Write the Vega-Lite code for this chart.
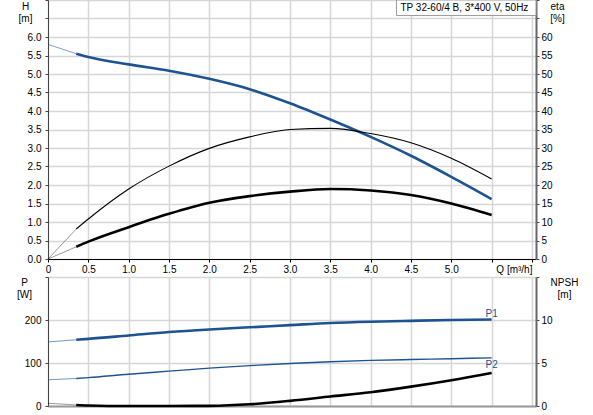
{
  "$schema": "https://vega.github.io/schema/vega-lite/v6.json",
  "padding": {"left": 16, "top": -5, "right": 0, "bottom": 0},
  "background": "white",
  "config": {
    "font": "Liberation Sans",
    "view": {"stroke": null},
    "axis": {
      "labelFont": "Liberation Sans",
      "labelFontSize": 10,
      "labelColor": "#000",
      "titleFont": "Liberation Sans",
      "titleFontSize": 10,
      "titleFontWeight": "normal",
      "titleColor": "#000",
      "titleAngle": 0,
      "titleBaseline": "top",
      "titleAlign": "center",
      "titleLineHeight": 12,
      "tickColor": "#444",
      "tickSize": 3,
      "gridColor": "#d6d6d6",
      "gridWidth": 1.5,
      "labelPadding": 2,
      "labelFlush": false,
      "labelOverlap": false
    }
  },
  "datasets": {
    "top": [
      {"curve": "H", "part": "ext", "q": 0, "v": 5.8},
      {"curve": "H", "part": "ext", "q": 0.35, "v": 5.55},
      {"curve": "H", "part": "main", "q": 0.35, "v": 5.55},
      {"curve": "H", "part": "main", "q": 0.5, "v": 5.46},
      {"curve": "H", "part": "main", "q": 1.0, "v": 5.26},
      {"curve": "H", "part": "main", "q": 1.5, "v": 5.09},
      {"curve": "H", "part": "main", "q": 2.0, "v": 4.87},
      {"curve": "H", "part": "main", "q": 2.5, "v": 4.59},
      {"curve": "H", "part": "main", "q": 3.0, "v": 4.21},
      {"curve": "H", "part": "main", "q": 3.5, "v": 3.77},
      {"curve": "H", "part": "main", "q": 4.0, "v": 3.3},
      {"curve": "H", "part": "main", "q": 4.5, "v": 2.79},
      {"curve": "H", "part": "main", "q": 5.0, "v": 2.22},
      {"curve": "H", "part": "main", "q": 5.5, "v": 1.62},
      {"curve": "eta", "part": "ext", "q": 0, "v": 0},
      {"curve": "eta", "part": "ext", "q": 0.35, "v": 8.1},
      {"curve": "eta", "part": "main", "q": 0.35, "v": 8.1},
      {"curve": "eta", "part": "main", "q": 0.5, "v": 10.8},
      {"curve": "eta", "part": "main", "q": 1.0, "v": 18.9},
      {"curve": "eta", "part": "main", "q": 1.5, "v": 25.1},
      {"curve": "eta", "part": "main", "q": 2.0, "v": 29.9},
      {"curve": "eta", "part": "main", "q": 2.5, "v": 33.0},
      {"curve": "eta", "part": "main", "q": 3.0, "v": 35.0},
      {"curve": "eta", "part": "main", "q": 3.5, "v": 35.3},
      {"curve": "eta", "part": "main", "q": 4.0, "v": 33.9},
      {"curve": "eta", "part": "main", "q": 4.5, "v": 31.4},
      {"curve": "eta", "part": "main", "q": 5.0, "v": 27.2},
      {"curve": "eta", "part": "main", "q": 5.5, "v": 21.6},
      {"curve": "eta total", "part": "ext", "q": 0, "v": 0},
      {"curve": "eta total", "part": "ext", "q": 0.35, "v": 3.3},
      {"curve": "eta total", "part": "main", "q": 0.35, "v": 3.3},
      {"curve": "eta total", "part": "main", "q": 0.5, "v": 4.7},
      {"curve": "eta total", "part": "main", "q": 1.0, "v": 8.6},
      {"curve": "eta total", "part": "main", "q": 1.5, "v": 12.2},
      {"curve": "eta total", "part": "main", "q": 2.0, "v": 15.2},
      {"curve": "eta total", "part": "main", "q": 2.5, "v": 17.0},
      {"curve": "eta total", "part": "main", "q": 3.0, "v": 18.2},
      {"curve": "eta total", "part": "main", "q": 3.5, "v": 18.9},
      {"curve": "eta total", "part": "main", "q": 4.0, "v": 18.5},
      {"curve": "eta total", "part": "main", "q": 4.5, "v": 17.3},
      {"curve": "eta total", "part": "main", "q": 5.0, "v": 15.0},
      {"curve": "eta total", "part": "main", "q": 5.5, "v": 11.9}
    ],
    "bottom": [
      {"curve": "P1", "part": "ext", "q": 0, "v": 149},
      {"curve": "P1", "part": "ext", "q": 0.35, "v": 154},
      {"curve": "P1", "part": "main", "q": 0.35, "v": 154},
      {"curve": "P1", "part": "main", "q": 0.5, "v": 156},
      {"curve": "P1", "part": "main", "q": 1.0, "v": 164},
      {"curve": "P1", "part": "main", "q": 1.5, "v": 172},
      {"curve": "P1", "part": "main", "q": 2.0, "v": 178},
      {"curve": "P1", "part": "main", "q": 2.5, "v": 183},
      {"curve": "P1", "part": "main", "q": 3.0, "v": 188},
      {"curve": "P1", "part": "main", "q": 3.5, "v": 193},
      {"curve": "P1", "part": "main", "q": 4.0, "v": 196},
      {"curve": "P1", "part": "main", "q": 4.5, "v": 198},
      {"curve": "P1", "part": "main", "q": 5.0, "v": 200},
      {"curve": "P1", "part": "main", "q": 5.5, "v": 201},
      {"curve": "P2", "part": "ext", "q": 0, "v": 61},
      {"curve": "P2", "part": "ext", "q": 0.35, "v": 64},
      {"curve": "P2", "part": "main", "q": 0.35, "v": 64},
      {"curve": "P2", "part": "main", "q": 0.5, "v": 66},
      {"curve": "P2", "part": "main", "q": 1.0, "v": 74},
      {"curve": "P2", "part": "main", "q": 1.5, "v": 81},
      {"curve": "P2", "part": "main", "q": 2.0, "v": 88},
      {"curve": "P2", "part": "main", "q": 2.5, "v": 94},
      {"curve": "P2", "part": "main", "q": 3.0, "v": 99},
      {"curve": "P2", "part": "main", "q": 3.5, "v": 103},
      {"curve": "P2", "part": "main", "q": 4.0, "v": 106},
      {"curve": "P2", "part": "main", "q": 4.5, "v": 108},
      {"curve": "P2", "part": "main", "q": 5.0, "v": 110},
      {"curve": "P2", "part": "main", "q": 5.5, "v": 112},
      {"curve": "NPSH", "part": "ext", "q": 0, "v": 0.32},
      {"curve": "NPSH", "part": "ext", "q": 0.35, "v": 0.12},
      {"curve": "NPSH", "part": "main", "q": 0.35, "v": 0.12},
      {"curve": "NPSH", "part": "main", "q": 0.5, "v": 0.06},
      {"curve": "NPSH", "part": "main", "q": 1.0, "v": 0.0},
      {"curve": "NPSH", "part": "main", "q": 1.5, "v": 0.0},
      {"curve": "NPSH", "part": "main", "q": 2.0, "v": 0.02},
      {"curve": "NPSH", "part": "main", "q": 2.5, "v": 0.2},
      {"curve": "NPSH", "part": "main", "q": 3.0, "v": 0.6},
      {"curve": "NPSH", "part": "main", "q": 3.5, "v": 1.1},
      {"curve": "NPSH", "part": "main", "q": 4.0, "v": 1.6},
      {"curve": "NPSH", "part": "main", "q": 4.5, "v": 2.25},
      {"curve": "NPSH", "part": "main", "q": 5.0, "v": 3.0},
      {"curve": "NPSH", "part": "main", "q": 5.5, "v": 3.85}
    ]
  },
  "vconcat": [
    {
      "width": 488,
      "height": 259,
      "layer": [
        {
          "data": {"name": "top"},
          "transform": [{"filter": "datum.curve == 'H'"}],
          "mark": {"type": "line", "interpolate": "monotone", "color": "#1d5391"},
          "encoding": {
            "x": {
              "field": "q",
              "type": "quantitative",
              "scale": {"domain": [0, 6.05], "nice": false},
              "axis": {
                "title": null,
                "values": [0, 0.5, 1, 1.5, 2, 2.5, 3, 3.5, 4, 4.5, 5, 5.5, 6],
                "grid": true,
                "domainColor": "#000",
                "tickColor": "#000",
                "labelExpr": "datum.value == 0 ? '0' : datum.value == 6 ? 'Q [m³/h]' : datum.value == 5.5 ? '' : format(datum.value, '.1f')",
                "labelAlign": {"condition": {"test": "datum.value == 6", "value": "right"}, "value": "center"}
              }
            },
            "y": {
              "field": "v",
              "type": "quantitative",
              "scale": {"domain": [0, 7], "nice": false},
              "axis": {
                "title": ["H", "[m]"],
                "titleX": -23,
                "titleY": 1,
                "values": [0, 0.5, 1, 1.5, 2, 2.5, 3, 3.5, 4, 4.5, 5, 5.5, 6, 6.5, 7],
                "labelExpr": "datum.value > 6 ? '' : format(datum.value, '.1f')",
                "grid": true,
                "domainColor": "#444",
                "labelPadding": 4
              }
            },
            "detail": {"field": "part"},
            "strokeWidth": {"condition": {"test": "datum.part == 'ext'", "value": 1}, "value": 2.6},
            "opacity": {"condition": {"test": "datum.part == 'ext'", "value": 0.55}, "value": 1}
          }
        },
        {
          "data": {"name": "top"},
          "transform": [{"filter": "datum.curve != 'H'"}],
          "mark": {"type": "line", "interpolate": "monotone", "color": "#000"},
          "encoding": {
            "x": {"field": "q", "type": "quantitative"},
            "y": {
              "field": "v",
              "type": "quantitative",
              "scale": {"domain": [0, 70], "nice": false},
              "axis": {
                "orient": "right",
                "title": ["eta", "[%]"],
                "titleX": 21,
                "titleY": 1,
                "values": [0, 5, 10, 15, 20, 25, 30, 35, 40, 45, 50, 55, 60, 65, 70],
                "labelExpr": "datum.value > 60 ? '' : datum.label",
                "grid": false,
                "domainColor": "#666",
                "domainWidth": 2
              }
            },
            "detail": [{"field": "curve"}, {"field": "part"}],
            "strokeWidth": {
              "condition": [
                {"test": "datum.part == 'ext'", "value": 0.8},
                {"test": "datum.curve == 'eta'", "value": 1.1}
              ],
              "value": 2.6
            },
            "opacity": {"condition": {"test": "datum.part == 'ext'", "value": 0.5}, "value": 1}
          }
        },
        {
          "data": {"values": [{}]},
          "layer": [
            {
              "mark": {"type": "rect", "fill": "white", "stroke": "#9a9a9a", "strokeWidth": 1},
              "encoding": {
                "x": {"datum": 4.32, "type": "quantitative"},
                "x2": {"datum": 6.05},
                "y": {"datum": 7, "type": "quantitative", "scale": {"domain": [0, 7], "nice": false}, "axis": null},
                "y2": {"datum": 6.58}
              }
            },
            {
              "mark": {"type": "text", "align": "left", "baseline": "alphabetic", "fontSize": 10, "color": "#000", "text": "TP 32-60/4 B, 3*400 V, 50Hz"},
              "encoding": {
                "x": {"datum": 4.37, "type": "quantitative"},
                "y": {"datum": 6.69, "type": "quantitative", "axis": null}
              }
            }
          ]
        }
      ],
      "resolve": {"scale": {"y": "independent"}}
    },
    {
      "width": 488,
      "height": 129,
      "layer": [
        {
          "layer": [
            {
              "data": {"name": "bottom"},
              "transform": [{"filter": "datum.curve == 'P1' || datum.curve == 'P2'"}],
              "mark": {"type": "line", "interpolate": "monotone", "color": "#1d5391"},
              "encoding": {
                "x": {
                  "field": "q",
                  "type": "quantitative",
                  "scale": {"domain": [0, 6.05], "nice": false},
                  "axis": {
                    "title": null,
                    "values": [0, 0.5, 1, 1.5, 2, 2.5, 3, 3.5, 4, 4.5, 5, 5.5, 6],
                    "grid": true,
                    "labels": false,
                    "ticks": false,
                    "domainColor": "#999",
                    "domainWidth": 2
                  }
                },
                "y": {
                  "field": "v",
                  "type": "quantitative",
                  "scale": {"domain": [0, 300], "nice": false},
                  "axis": {
                    "title": ["P", "[W]"],
                    "titleX": -24,
                    "titleY": 0,
                    "values": [0, 100, 200, 300],
                    "labelExpr": "datum.value > 200 ? '' : datum.label",
                    "grid": true,
                    "domainColor": "#444",
                    "labelPadding": 4
                  }
                },
                "detail": [{"field": "curve"}, {"field": "part"}],
                "strokeWidth": {
                  "condition": [
                    {"test": "datum.part == 'ext'", "value": 1},
                    {"test": "datum.curve == 'P2'", "value": 1.4}
                  ],
                  "value": 2.6
                },
                "opacity": {"condition": {"test": "datum.part == 'ext'", "value": 0.6}, "value": 1}
              }
            },
            {
              "data": {"name": "bottom"},
              "transform": [{"filter": "datum.curve == 'P1' && datum.q == 5.5"}],
              "mark": {"type": "text", "align": "center", "baseline": "bottom", "dy": -1, "fontSize": 10, "color": "#1d5391"},
              "encoding": {
                "x": {"field": "q", "type": "quantitative"},
                "y": {"field": "v", "type": "quantitative"},
                "text": {"field": "curve"}
              }
            },
            {
              "data": {"name": "bottom"},
              "transform": [{"filter": "datum.curve == 'P2' && datum.q == 5.5"}],
              "mark": {"type": "text", "align": "center", "baseline": "top", "dy": 2, "fontSize": 10, "color": "#1d5391"},
              "encoding": {
                "x": {"field": "q", "type": "quantitative"},
                "y": {"field": "v", "type": "quantitative"},
                "text": {"field": "curve"}
              }
            }
          ]
        },
        {
          "data": {"name": "bottom"},
          "transform": [{"filter": "datum.curve == 'NPSH'"}],
          "mark": {"type": "line", "interpolate": "monotone", "color": "#000"},
          "encoding": {
            "x": {"field": "q", "type": "quantitative"},
            "y": {
              "field": "v",
              "type": "quantitative",
              "scale": {"domain": [0, 15], "nice": false},
              "axis": {
                "orient": "right",
                "title": ["NPSH", "[m]"],
                "titleX": 28,
                "titleY": 0,
                "values": [0, 5, 10, 15],
                "labelExpr": "datum.value > 10 ? '' : datum.label",
                "grid": false,
                "domainColor": "#666",
                "domainWidth": 2
              }
            },
            "detail": {"field": "part"},
            "strokeWidth": {"condition": {"test": "datum.part == 'ext'", "value": 0.8}, "value": 2.6},
            "opacity": {"condition": {"test": "datum.part == 'ext'", "value": 0.5}, "value": 1}
          }
        }
      ],
      "resolve": {"scale": {"y": "independent"}}
    }
  ],
  "spacing": 18,
  "bounds": "flush"
}
